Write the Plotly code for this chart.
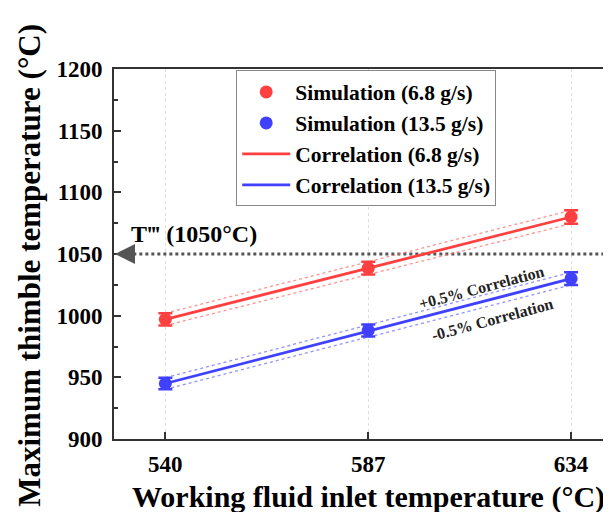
import plotly.graph_objects as go

# ---- data ----
inlet_temp = [540, 587, 634]
sim_68 = [997, 1038.5, 1080]
sim_135 = [945, 988, 1030]
err_68 = [5.0, 5.2, 5.4]
err_135 = [4.7, 4.9, 5.2]
corr_68 = [997, 1038.5, 1080]
corr_135 = [945, 987.5, 1030]
corr_68_up = [1002.0, 1043.7, 1085.4]
corr_68_lo = [992.0, 1033.3, 1074.6]
corr_135_up = [949.7, 992.4, 1035.2]
corr_135_lo = [940.3, 982.6, 1024.9]
threshold = 1050
x_ticks = [540, 587, 634]
y_ticks = [900, 950, 1000, 1050, 1100, 1150, 1200]

RED = "rgb(255,64,64)"
BLUE = "rgb(64,64,255)"
RED_L = "rgba(255,110,110,0.75)"
BLUE_L = "rgba(110,110,255,0.75)"
FONT = "Liberation Serif"

fig = go.Figure()

# threshold line
fig.add_trace(go.Scatter(x=[529.8, 646], y=[threshold, threshold], mode="lines",
                         line=dict(color="#555555", width=3, dash="dot"),
                         showlegend=False, hoverinfo="skip"))

# +-0.5% dotted lines
for ys, c in [(corr_68_up, RED_L), (corr_68_lo, RED_L), (corr_135_up, BLUE_L), (corr_135_lo, BLUE_L)]:
    fig.add_trace(go.Scatter(x=inlet_temp, y=ys, mode="lines",
                             line=dict(color=c, width=1.3, dash="dot"),
                             showlegend=False, hoverinfo="skip"))

# simulation points
fig.add_trace(go.Scatter(x=inlet_temp, y=sim_68, mode="markers", name="Simulation (6.8 g/s)",
                         marker=dict(color=RED, size=13),
                         error_y=dict(type="data", array=err_68, color=RED, thickness=2.5, width=7)))
fig.add_trace(go.Scatter(x=inlet_temp, y=sim_135, mode="markers", name="Simulation (13.5 g/s)",
                         marker=dict(color=BLUE, size=13),
                         error_y=dict(type="data", array=err_135, color=BLUE, thickness=2.5, width=7)))
# correlation lines
fig.add_trace(go.Scatter(x=inlet_temp, y=corr_68, mode="lines", name="Correlation (6.8 g/s)",
                         line=dict(color=RED, width=2.8)))
fig.add_trace(go.Scatter(x=inlet_temp, y=corr_135, mode="lines", name="Correlation (13.5 g/s)",
                         line=dict(color=BLUE, width=2.8)))

fig.update_layout(
    width=611, height=512,
    margin=dict(l=105.5, r=0, t=60.5, b=81),
    paper_bgcolor="white", plot_bgcolor="white",
    font=dict(family=FONT, color="black", size=20, weight="bold"),
    showlegend=True,
    legend=dict(x=0.242, y=0.996, xanchor="left", yanchor="top",
                bordercolor="#888888", borderwidth=1, bgcolor="white", itemwidth=48,
                font=dict(family=FONT, size=21.5, weight="bold"), tracegroupgap=0),
    xaxis=dict(range=[528.1, 645.1], tickvals=x_ticks, ticktext=[str(v) for v in x_ticks],
               showline=True, linecolor="#333333", linewidth=2, mirror=True,
               ticks="inside", ticklen=7, tickwidth=1.5, tickcolor="#333333",
               showgrid=True, gridcolor="#dddddd", gridwidth=1, griddash="dot",
               zeroline=False, ticklabelstandoff=3,
               tickfont=dict(family=FONT, size=23, weight="bold")),
    yaxis=dict(range=[900, 1200], tickvals=y_ticks,
               showline=True, linecolor="#333333", linewidth=2, mirror=False,
               ticks="inside", ticklen=7, tickwidth=1.5, tickcolor="#333333",
               minor=dict(ticks="inside", ticklen=4, tickwidth=1.5, tickcolor="#333333", dtick=25, showgrid=False),
               showgrid=False, zeroline=False, ticklabelstandoff=5,
               tickfont=dict(family=FONT, size=23, weight="bold")),
)

fig.add_annotation(x=0.0, y=threshold, xref="paper", yref="y", text="", showarrow=True,
                   ax=16, ay=0, axref="pixel", ayref="pixel", arrowhead=2, arrowsize=1.6,
                   arrowwidth=2.5, arrowcolor="#555555", standoff=1)
fig.add_annotation(x=546.7, y=1066, xref="x", yref="y", text="T‴ (1050°C)", showarrow=False,
                   font=dict(family=FONT, size=24, weight="bold", color="black"))
fig.add_annotation(x=613.2, y=1023.1, xref="x", yref="y", text="+0.5% Correlation", showarrow=False,
                   textangle=-15, font=dict(family=FONT, size=16, weight="bold", color="#222222"))
fig.add_annotation(x=615.7, y=996.6, xref="x", yref="y", text="-0.5% Correlation", showarrow=False,
                   textangle=-15, font=dict(family=FONT, size=16, weight="bold", color="#222222"))
# axis titles
fig.add_annotation(x=0.503, y=-0.157, xref="paper", yref="paper", text="Working fluid inlet temperature (°C)",
                   showarrow=False, xanchor="center", yanchor="middle",
                   font=dict(family=FONT, size=30, weight="bold"))
fig.add_annotation(x=-0.169, y=0.47, xref="paper", yref="paper", text="Maximum thimble temperature (°C)",
                   showarrow=False, textangle=-90, xanchor="center", yanchor="middle",
                   font=dict(family=FONT, size=31, weight="bold"))

fig.write_html("out.html")
